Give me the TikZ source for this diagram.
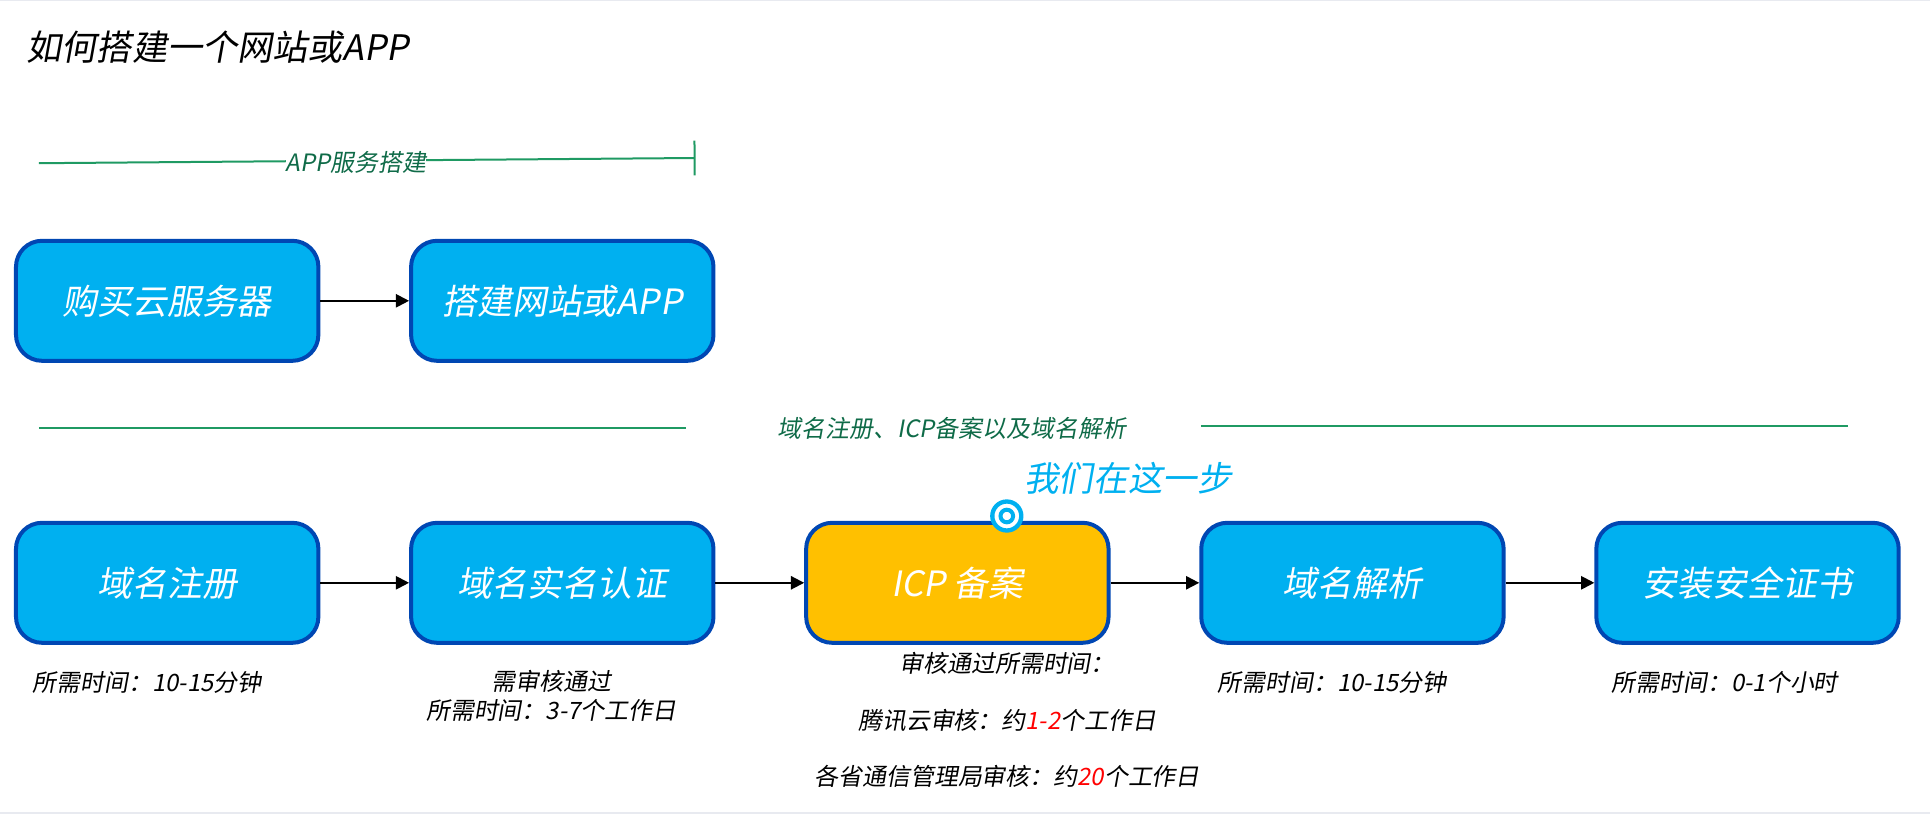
\documentclass[tikz,border=0pt]{standalone}
\usepackage{xcolor}
\usepackage{fontspec}
\usepackage{tikz}
\usetikzlibrary{arrows.meta, positioning}
\setmainfont{Noto Sans CJK SC}[FakeSlant=0.18]
\definecolor{stepblue}{HTML}{00B0F0}
\definecolor{stepedge}{HTML}{0047B3}
\definecolor{stepgold}{HTML}{FFC000}
\definecolor{linegreen}{HTML}{1F9A63}
\definecolor{labelgreen}{HTML}{0F6B48}
\definecolor{pagegrey}{HTML}{E8EAF0}
\tikzset{
  stepbox/.style={draw=stepedge, fill=stepblue, line width=0.1cm, rounded corners=0.65cm,
    minimum width=7.56cm, minimum height=3cm, text=white, font=\fontsize{24.8}{30}\selectfont},
  nextstep/.style={-{Triangle[length=0.33cm,width=0.33cm]}, line width=0.05cm},
  sectline/.style={linegreen, line width=0.05cm},
  sectlabel/.style={text=labelgreen, font=\fontsize{17}{20}\selectfont, inner sep=0pt},
  stepnote/.style={align=center, inner sep=0pt, font=\fontsize{17}{20.6}\selectfont},
}
\begin{document}
\begin{tikzpicture}
  \useasboundingbox (0,0) rectangle (48.25,-20.35);
  \fill[pagegrey] (0,-20.3) rectangle (48.25,-20.35);
  \fill[pagegrey] (0,0) rectangle (48.25,-0.03);
  \node[anchor=west, inner sep=0pt, font=\fontsize{25}{30}\selectfont] (title) at (0.66,-1.18) {如何搭建一个网站或APP};

  % top section
  \coordinate (appstart) at (0.97,-4.08);
  \coordinate (append) at (17.39,-3.95);
  \draw[sectline, {-Bar[width=0.87cm]}] (appstart) -- (append);
  \node[sectlabel, fill=white] (applabel) at (8.9,-4.05) {APP服务搭建};

  % first row
  \node[stepbox] (buy) at (4.18,-7.52) {购买云服务器};
  \node[stepbox, right=2.217cm of buy] (site) {搭建网站或APP};
  \draw[nextstep] (buy) -- (site);

  % middle section
  \coordinate (domstart) at (0.97,-10.7);
  \coordinate (domend) at (17.15,-10.7);
  \coordinate (resstart) at (30.02,-10.65);
  \coordinate (resend) at (46.2,-10.65);
  \draw[sectline] (domstart) -- (domend);
  \draw[sectline] (resstart) -- (resend);
  \node[sectlabel] (domlabel) at (23.8,-10.72) {域名注册、ICP备案以及域名解析};

  % second row
  \node[stepbox] (reg) at (4.18,-14.57) {域名注册};
  \node[stepbox, right=2.217cm of reg] (real) {域名实名认证};
  \node[stepbox, right=2.217cm of real, fill=stepgold] (icp) {ICP 备案};
  \node[stepbox, right=2.217cm of icp] (dns) {域名解析};
  \node[stepbox, right=2.217cm of dns] (ssl) {安装安全证书};
  \foreach \a/\b in {reg/real, real/icp, icp/dns, dns/ssl} {
    \draw[nextstep] (\a) -- (\b);
  }

  % current step marker
  \node[circle, draw=stepblue, fill=white, line width=0.108cm, minimum size=0.725cm, inner sep=0pt] (mark) at (25.17,-12.9) {};
  \node[circle, draw=stepblue, line width=0.1cm, minimum size=0.315cm, inner sep=0pt] (markdot) at (mark) {};
  \node[inner sep=0pt, text=stepblue, font=\fontsize{24.6}{30}\selectfont] (here) at (28.2,-11.96) {我们在这一步};

  % notes under the steps
  \node[stepnote] (regnote) at (3.68,-17.05) {所需时间：10-15分钟};
  \node[stepnote] (realnote) at (13.78,-17.4) {需审核通过\\所需时间：3-7个工作日};
  \node[stepnote, font=\fontsize{17}{40}\selectfont] (icpnote) at (25.18,-18) {审核通过所需时间：\\腾讯云审核：约\textcolor{red}{1-2}个工作日\\各省通信管理局审核：约\textcolor{red}{20}个工作日};
  \node[stepnote] (dnsnote) at (33.3,-17.05) {所需时间：10-15分钟};
  \node[stepnote] (sslnote) at (43.12,-17.05) {所需时间：0-1个小时};
\end{tikzpicture}
\end{document}
